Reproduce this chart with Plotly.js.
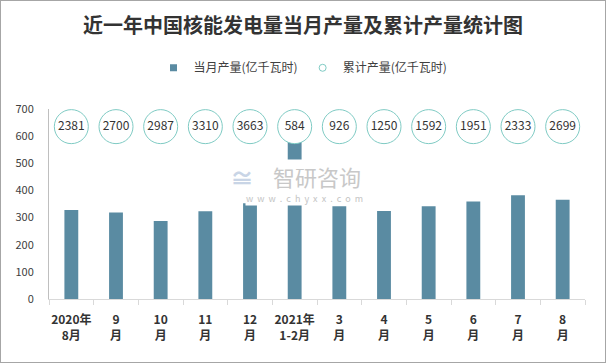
<!DOCTYPE html>
<html>
<head>
<meta charset="utf-8">
<script src="https://cdn.plot.ly/plotly-3.0.1.min.js"></script>
<style>
html,body{margin:0;padding:0;background:#fff;}
#wrap{width:606px;height:363px;box-sizing:border-box;border:1px solid #a6a6a6;overflow:hidden;}
#chart{width:604px;height:361px;}
</style>
</head>
<body>
<div id="wrap"><div id="chart"></div></div>
<script>
const categories = ["2020年<br>8月","9<br>月","10<br>月","11<br>月","12<br>月","2021年<br>1-2月","3<br>月","4<br>月","5<br>月","6<br>月","7<br>月","8<br>月"];
const monthly = [328, 319, 287, 323, 353, 584, 342, 324, 342, 359, 382, 366];
const cumulative = [2381, 2700, 2987, 3310, 3663, 584, 926, 1250, 1592, 1951, 2333, 2699];
const yTicks = [0, 100, 200, 300, 400, 500, 600, 700];
const LABEL_Y = 635;

const font = "Noto Sans CJK SC, Noto Sans, sans-serif";

const traces = [
  {
    type: "bar", x: categories, y: monthly, width: 0.31,
    marker: {color: "#5a8ba2"}, showlegend: false, hoverinfo: "y"
  },
  {
    type: "scatter", mode: "markers+text", x: categories,
    y: cumulative.map(() => LABEL_Y),
    text: cumulative.map(String), textposition: "middle center",
    textfont: {size: 12, color: "#333333", family: font},
    marker: {size: 34, color: "#ffffff", line: {color: "#7fcbc4", width: 1}},
    showlegend: false, cliponaxis: false
  },
  {
    type: "scatter", mode: "markers", x: [categories[0]], y: [null],
    name: "当月产量(亿千瓦时)",
    marker: {symbol: "square", size: 7, color: "#5a8ba2"}
  },
  {
    type: "scatter", mode: "markers", x: [categories[0]], y: [null],
    name: "累计产量(亿千瓦时)",
    marker: {symbol: "circle", size: 7, color: "#ffffff", line: {color: "#7fcbc4", width: 1}}
  }
];

const layout = {
  width: 604, height: 361,
  margin: {l: 48, r: 20, t: 108, b: 63},
  paper_bgcolor: "#ffffff", plot_bgcolor: "#ffffff",
  font: {family: font, color: "#404040"},
  title: {
    text: "近一年中国核能发电量当月产量及累计产量统计图",
    font: {size: 20, weight: "bold", color: "#333333", family: "Noto Sans CJK SC"},
    x: 0.5, xref: "container", xanchor: "center",
    y: 0.93, yref: "container", yanchor: "middle"
  },
  legend: {
    orientation: "h", x: 0.5, xref: "container", xanchor: "center",
    y: 0.815, yref: "container", yanchor: "middle",
    font: {size: 12, color: "#404040", family: font},
    itemwidth: 30, tracegroupgap: 0
  },
  xaxis: {
    type: "category", tickangle: 0, automargin: false,
    range: [-0.5, categories.length - 0.5],
    showline: true, linecolor: "#d9d9d9", linewidth: 1,
    ticks: "outside", tickson: "boundaries", ticklen: 5, tickcolor: "#d9d9d9",
    tickfont: {size: 12, weight: "bold", color: "#333333", family: font},
    ticklabelstandoff: 10,
    showgrid: false, zeroline: false, fixedrange: true
  },
  yaxis: {
    range: [0, 700], tickvals: yTicks, ticktext: yTicks.map(String),
    automargin: false,
    showline: true, linecolor: "#bfbfbf", linewidth: 1,
    ticks: "", showgrid: false, zeroline: false,
    tickfont: {size: 11, color: "#404040", family: font},
    ticklabelstandoff: 12
  },
  annotations: [
    {
      xref: "paper", yref: "paper", x: 0.5, y: 0.645,
      text: "智研咨询", showarrow: false,
      font: {size: 22, color: "#c8c8c8", family: font},
      bgcolor: "#ffffff", borderpad: 0
    },
    {
      xref: "paper", yref: "paper", x: 0.36, y: 0.645,
      text: "<b>≅</b>", showarrow: false,
      font: {size: 24, color: "#c9d5e6", family: font},
      bgcolor: "rgba(0,0,0,0)"
    },
    {
      xref: "paper", yref: "paper", x: 0.476, y: 0.527,
      text: "w  w  w  .  c  h  y  x  x  .  c  o  m", showarrow: false,
      font: {size: 9, color: "#c4c4c4", family: font},
      bgcolor: "#ffffff", borderpad: 0
    }
  ]
};

Plotly.newPlot("chart", traces, layout, {displayModeBar: false, staticPlot: true});
</script>
</body>
</html>
